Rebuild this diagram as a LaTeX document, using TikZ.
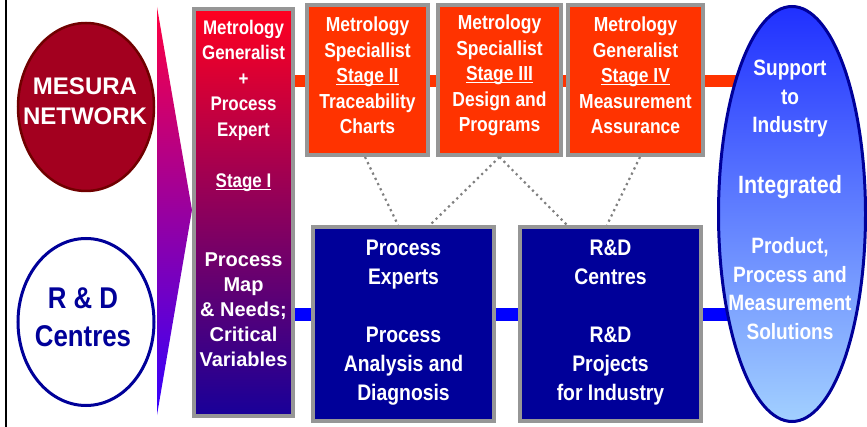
\documentclass[tikz,border=0pt]{standalone}
\usepackage{fontspec}
\setmainfont{Liberation Sans}
\newfontfamily\cond{Liberation Sans}[FakeStretch=0.86]
\newfontfamily\normsans{Liberation Sans}
\usetikzlibrary{shapes.geometric,calc}
\definecolor{oran}{HTML}{FF3300}
\definecolor{navy}{HTML}{000099}
\definecolor{bargblue}{HTML}{0000FF}
\definecolor{bordergray}{HTML}{969696}
\definecolor{dotgray}{HTML}{808080}
\definecolor{mred}{HTML}{A3001F}
\definecolor{mredb}{HTML}{700000}
\definecolor{triA}{HTML}{FF0040}
\definecolor{triB}{HTML}{C400BC}
\definecolor{triC}{HTML}{3300FF}
\definecolor{sA}{HTML}{FF0020}
\definecolor{sB}{HTML}{B8007A}
\definecolor{sC}{HTML}{180099}
\definecolor{eA}{HTML}{2030FF}
\definecolor{eB}{HTML}{A2D0FF}
\newcommand\stul[1]{\setbox0\hbox{#1}\rlap{\rule[-2.6pt]{\wd0}{1.7pt}}\box0}
\begin{document}
\begin{tikzpicture}[x=1pt,y=-1pt,
  grayframe/.style={draw=bordergray, line width=4pt, inner sep=0pt},
  stagebox/.style={grayframe, fill=oran, minimum height=150pt},
  bluebox/.style={grayframe, fill=navy, minimum width=181pt, minimum height=194pt},
  stagetxt/.style={text=white, align=center, inner sep=0pt, font=\cond\bfseries\fontsize{20.3}{25.5}\selectfont},
  boxtxt/.style={text=white, align=center, inner sep=0pt, font=\cond\bfseries\fontsize{22.5}{29}\selectfont},
  ellitxt/.style={text=white, align=center, inner sep=0pt, font=\cond\bfseries\fontsize{22.2}{28.5}\selectfont},
  linkdots/.style={draw=dotgray, line width=2.2pt, dash pattern=on 2.2pt off 3.6pt},
  bar/.style={line width=12pt}
]
\useasboundingbox (0,0) rectangle (867,427);
% left rule
\coordinate (rt) at (6,0);
\coordinate (rb) at (6,427);
\draw[line width=2.5pt, black] (rt) -- (rb);

% bars
\coordinate (obarL) at (295,81);
\coordinate (obarR) at (780,81);
\coordinate (bbarL) at (295,315);
\coordinate (bbarR) at (780,315);
\draw[bar, oran] (obarL) -- (obarR);
\draw[bar, bargblue, line width=13pt] (bbarL) -- (bbarR);

% left ellipses
\node[ellipse, draw=mredb, line width=2.5pt, fill=mred, minimum width=136pt, minimum height=168pt, inner sep=0pt] (mes) at (86,107) {};
\node[text=white, align=center, inner sep=0pt, font=\normsans\bfseries\fontsize{24}{30}\selectfont] (mestxt) at (85,101) {MESURA\\NETWORK};
\node[ellipse, draw=navy, line width=3pt, fill=white, minimum width=136pt, minimum height=167pt, inner sep=0pt] (rdc) at (86,322) {};
\node[text=navy, align=center, inner sep=0pt, font=\cond\bfseries\fontsize{30}{38.5}\selectfont] (rdctxt) at (83,317.5) {R \& D\\Centres};

% gradient arrow
\shade[top color=triA, middle color=triB, bottom color=triC] (157,7) -- (192,210) -- (157,415) -- cycle;

% stage I
\node[grayframe, top color=sA, middle color=sB, bottom color=sC, minimum width=99pt, minimum height=407pt] (s1) at (243.5,212.5) {};
\node[text=white, align=center, inner sep=0pt, font=\cond\bfseries\fontsize{19.7}{25.5}\selectfont] (s1a) at (243.5,106) {Metrology\\Generalist\\+\\Process\\Expert\\[26pt]\stul{Stage I}};
\node[text=white, align=center, inner sep=0pt, font=\normsans\bfseries\fontsize{20}{25}\selectfont] (s1b) at (243.5,310) {Process\\Map\\\& Needs;\\Critical\\Variables};

% stage boxes
\node[stagebox, minimum width=121pt] (s2) at (367.5,80) {};
\node[stagebox, minimum width=123pt] (s3) at (499.5,80) {};
\node[stagebox, minimum width=135pt] (s4) at (635.5,80) {};
\node[stagetxt] (s2t) at (367.5,75.5) {Metrology\\Speciallist\\\stul{Stage II}\\Traceability\\Charts};
\node[stagetxt] (s3t) at (499.5,75.5) {Metrology\\Speciallist\\\stul{Stage III}\\Design and\\Programs};
\node[stagetxt] (s4t) at (635.5,75.5) {Metrology\\Generalist\\\stul{Stage IV}\\Measurement\\Assurance};

% blue boxes
\node[bluebox] (pe) at (403.5,324) {};
\node[bluebox] (rd) at (610.5,324) {};
\node[boxtxt] (pet) at (403.5,322.5) {Process\\Experts\\[29pt]Process\\Analysis and\\Diagnosis};
\node[boxtxt] (rdt) at (610.5,322.5) {R\&D\\Centres\\[29pt]R\&D\\Projects\\for Industry};

% dotted links
\draw[linkdots] ($(s2.south)+(-2.5,0)$) -- ($(pe.north)+(-5.5,0)$);
\draw[linkdots] (s3.south) -- ($(pe.north)+(26.5,0)$);
\draw[linkdots] (s3.south) -- ($(rd.north)+(-43.5,0)$);
\draw[linkdots] ($(s4.south)+(4.5,0)$) -- ($(rd.north)+(-3.5,0)$);

% right ellipse
\node[ellipse, draw=navy, line width=3pt, top color=eA, bottom color=eB, minimum width=147pt, minimum height=415pt, inner sep=0pt] (sup) at (792,214) {};
\node[ellitxt] (sup1) at (790,99) {Support\\to\\Industry};
\node[ellitxt, font=\cond\bfseries\fontsize{25}{30}\selectfont] (sup2) at (790,187) {Integrated};
\node[ellitxt] (sup3) at (790,288.5) {Product,\\Process and\\Measurement\\Solutions};
\end{tikzpicture}
\end{document}
